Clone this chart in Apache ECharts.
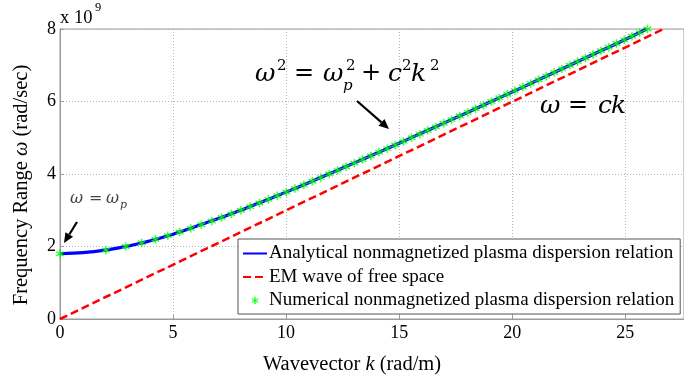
<!DOCTYPE html>
<html>
<head>
<meta charset="utf-8">
<script src="https://cdn.jsdelivr.net/npm/echarts@6/dist/echarts.min.js"></script>
<style>
  html, body { margin: 0; padding: 0; background: #fff; }
  #chart { width: 684px; height: 382px; }
</style>
</head>
<body>
<div id="chart"></div>
<script>
// wavevector k (rad/m) vs omega (x 1e9 rad/s)
const curveK = [0, 1, 2, 3, 4, 5, 6, 7, 8, 9, 10, 11, 12, 13, 14, 15, 16, 17, 18, 19, 20, 21, 22, 23, 24, 25, 25.95];
const curveW = [1.80, 1.83, 1.90, 2.01, 2.16, 2.34, 2.55, 2.77, 3.00, 3.25, 3.50, 3.76, 4.03, 4.30, 4.57, 4.85,
  5.13, 5.41, 5.69, 5.98, 6.26, 6.55, 6.84, 7.13, 7.42, 7.71, 8.00];

const freeK = [0, 26.7];
const freeW = [0, 8.0];

const starK = [0, 2.03, 2.91, 3.61, 4.22, 4.77, 5.29, 5.78, 6.25, 6.71, 7.15, 7.58, 8.00, 8.41, 8.82, 9.22,
  9.61, 10.01, 10.39, 10.78, 11.16, 11.53, 11.91, 12.28, 12.65, 13.02, 13.38, 13.75, 14.11, 14.47, 14.83,
  15.19, 15.55, 15.91, 16.26, 16.62, 16.97, 17.32, 17.68, 18.03, 18.38, 18.73, 19.08, 19.43, 19.78, 20.12,
  20.47, 20.82, 21.17, 21.51, 21.86, 22.20, 22.55, 22.89, 23.24, 23.58, 23.93, 24.27, 24.61, 24.96, 25.30,
  25.64, 25.98];
const starW = [1.8, 1.9, 2.0, 2.1, 2.2, 2.3, 2.4, 2.5, 2.6, 2.7, 2.8, 2.9, 3.0, 3.1, 3.2, 3.3, 3.4, 3.5, 3.6,
  3.7, 3.8, 3.9, 4.0, 4.1, 4.2, 4.3, 4.4, 4.5, 4.6, 4.7, 4.8, 4.9, 5.0, 5.1, 5.2, 5.3, 5.4, 5.5, 5.6, 5.7,
  5.8, 5.9, 6.0, 6.1, 6.2, 6.3, 6.4, 6.5, 6.6, 6.7, 6.8, 6.9, 7.0, 7.1, 7.2, 7.3, 7.4, 7.5, 7.6, 7.7, 7.8,
  7.9, 8.0];

const seriesNames = [
  'Analytical nonmagnetized plasma dispersion relation',
  'EM wave of free space',
  'Numerical nonmagnetized plasma dispersion relation'
];
const xTicks = [0, 5, 10, 15, 20, 25];
const yTicks = [0, 2, 4, 6, 8];

const serif = '"Liberation Serif", "DejaVu Serif", serif';
const mathFont = '"DejaVu Serif", "Liberation Serif", serif';
const axisGray = '#9a9a9a';
const gridGray = '#b4b4b4';
// six-armed asterisk, like the matlab '*' marker
const starPath = 'path://M44,100 L56,100 L56,0 L44,0 Z' +
  ' M90.3,80.2 L96.3,69.8 L9.7,19.8 L3.7,30.2 Z' +
  ' M3.7,69.8 L9.7,80.2 L96.3,30.2 L90.3,19.8 Z';

const zip = (xs, ys) => xs.map((x, i) => [x, ys[i]]);

function txt(x, y, text, size, opts) {
  opts = opts || {};
  return {
    type: 'text', x, y, silent: true, z: 100,
    style: {
      text,
      fontFamily: opts.font || mathFont,
      fontSize: size,
      fontStyle: opts.italic ? 'italic' : 'normal',
      fill: opts.color || '#000',
      align: opts.align || 'left',
      verticalAlign: 'middle'
    }
  };
}

function arrow(x1, y1, x2, y2) {
  const ang = Math.atan2(y2 - y1, x2 - x1);
  const len = 10, half = 4.5;
  const bx = x2 - len * Math.cos(ang), by = y2 - len * Math.sin(ang);
  const px = -Math.sin(ang) * half, py = Math.cos(ang) * half;
  return [
    { type: 'line', silent: true, z: 100, shape: { x1, y1, x2: bx, y2: by }, style: { stroke: '#000', lineWidth: 2.2 } },
    { type: 'polygon', silent: true, z: 100, shape: { points: [[x2, y2], [bx + px, by + py], [bx - px, by - py]] }, style: { fill: '#000' } }
  ];
}

const chart = echarts.init(document.getElementById('chart'), null, { renderer: 'canvas' });

chart.setOption({
  animation: false,
  backgroundColor: '#fff',
  grid: {
    left: 60, right: -2, top: 29, bottom: 63,
    show: true, borderColor: axisGray, borderWidth: 1, backgroundColor: 'transparent'
  },
  legend: {
    orient: 'vertical',
    left: 238, top: 239,
    backgroundColor: '#fff',
    borderColor: '#555', borderWidth: 1,
    padding: [5, 6, 4, 4],
    itemWidth: 24, itemHeight: 7, itemGap: 4.5,
    textStyle: { fontFamily: serif, fontSize: 19, color: '#000', padding: [0, 0, 0, -3] },
    data: [
      { name: seriesNames[0], itemStyle: { opacity: 0 } },
      { name: seriesNames[1], itemStyle: { opacity: 0 } },
      { name: seriesNames[2], icon: starPath, itemStyle: { color: '#00ff00', borderColor: '#00ff00', borderWidth: 0.5 } }
    ]
  },
  xAxis: {
    type: 'value', min: 0, max: 27.6, interval: 5,
    axisLine: { lineStyle: { color: axisGray } },
    axisTick: { inside: true, length: 4, lineStyle: { color: axisGray } },
    splitLine: { show: true, lineStyle: { color: gridGray, type: [1, 2] } },
    axisLabel: {
      margin: 5, color: '#000', fontFamily: serif, fontSize: 18, showMaxLabel: false,
      formatter: (v) => (xTicks.indexOf(v) >= 0 ? String(v) : '')
    }
  },
  yAxis: {
    type: 'value', min: 0, max: 8, interval: 2,
    axisLine: { show: true, lineStyle: { color: axisGray } },
    axisTick: { show: true, inside: true, length: 4, lineStyle: { color: axisGray } },
    splitLine: { show: true, lineStyle: { color: gridGray, type: [1, 2] } },
    axisLabel: {
      margin: 4, color: '#000', fontFamily: serif, fontSize: 18,
      formatter: (v) => (yTicks.indexOf(v) >= 0 ? String(v) : '')
    }
  },
  series: [
    {
      name: seriesNames[0], type: 'line', data: zip(curveK, curveW),
      smooth: 0.3, showSymbol: false, symbol: 'none', z: 3,
      color: '#0000ff',
      lineStyle: { color: '#0000ff', width: 3.2 }
    },
    {
      name: seriesNames[1], type: 'line', data: zip(freeK, freeW),
      showSymbol: false, symbol: 'none', z: 2,
      color: '#ff0000',
      lineStyle: { color: '#ff0000', width: 2.5, type: [8, 4] }
    },
    {
      name: seriesNames[2], type: 'scatter', data: zip(starK, starW),
      symbol: starPath, symbolSize: 8, z: 4,
      itemStyle: { color: '#00ff00', borderColor: '#00ff00', borderWidth: 0.4 }
    }
  ],
  graphic: [
    // exponent of y axis
    txt(60, 18, 'x 10', 18.5, { font: serif }),
    txt(95, 8, '9', 12.5, { font: serif }),
    // axis titles
    {
      type: 'text', x: 22, y: 185, rotation: Math.PI / 2, silent: true,
      style: {
        text: 'Frequency Range {i|ω} (rad/sec)',
        fontFamily: serif, fontSize: 20.5, fill: '#000', align: 'center', verticalAlign: 'middle',
        rich: { i: { fontFamily: serif, fontSize: 20.5, fontStyle: 'italic', fill: '#000' } }
      }
    },
    {
      type: 'text', x: 352, y: 365, silent: true,
      style: {
        text: 'Wavevector {i|k} (rad/m)',
        fontFamily: serif, fontSize: 20.5, fill: '#000', align: 'center', verticalAlign: 'middle',
        rich: { i: { fontFamily: serif, fontSize: 20.5, fontStyle: 'italic', fill: '#000' } }
      }
    },
    // omega = omega_p
    txt(70, 199, 'ω', 16, { italic: true, color: '#444' }),
    txt(89, 199, '=', 16, { color: '#444' }),
    txt(106, 199, 'ω', 16, { italic: true, color: '#444' }),
    txt(120, 205, 'p', 11, { italic: true, color: '#444' }),
    // omega^2 = omega_p^2 + c^2 k^2
    txt(255, 74, 'ω', 25, { italic: true }),
    txt(277, 66, '2', 15),
    txt(294, 74, '=', 24),
    txt(323, 74, 'ω', 25, { italic: true }),
    txt(346, 66, '2', 15),
    txt(343, 86, 'p', 15, { italic: true }),
    txt(361, 74, '+', 24),
    txt(388, 74, 'c', 25, { italic: true }),
    txt(402, 66, '2', 15),
    txt(411, 74, 'k', 25, { italic: true }),
    txt(430, 66, '2', 15),
    // omega = ck
    txt(540, 106, 'ω', 25, { italic: true }),
    txt(568, 106, '=', 24),
    txt(598, 106, 'c', 25, { italic: true }),
    txt(611, 106, 'k', 25, { italic: true })
  ].concat(arrow(77, 222, 64, 243), arrow(357, 101, 389, 129))
});

window.addEventListener('resize', () => chart.resize());
</script>
</body>
</html>
